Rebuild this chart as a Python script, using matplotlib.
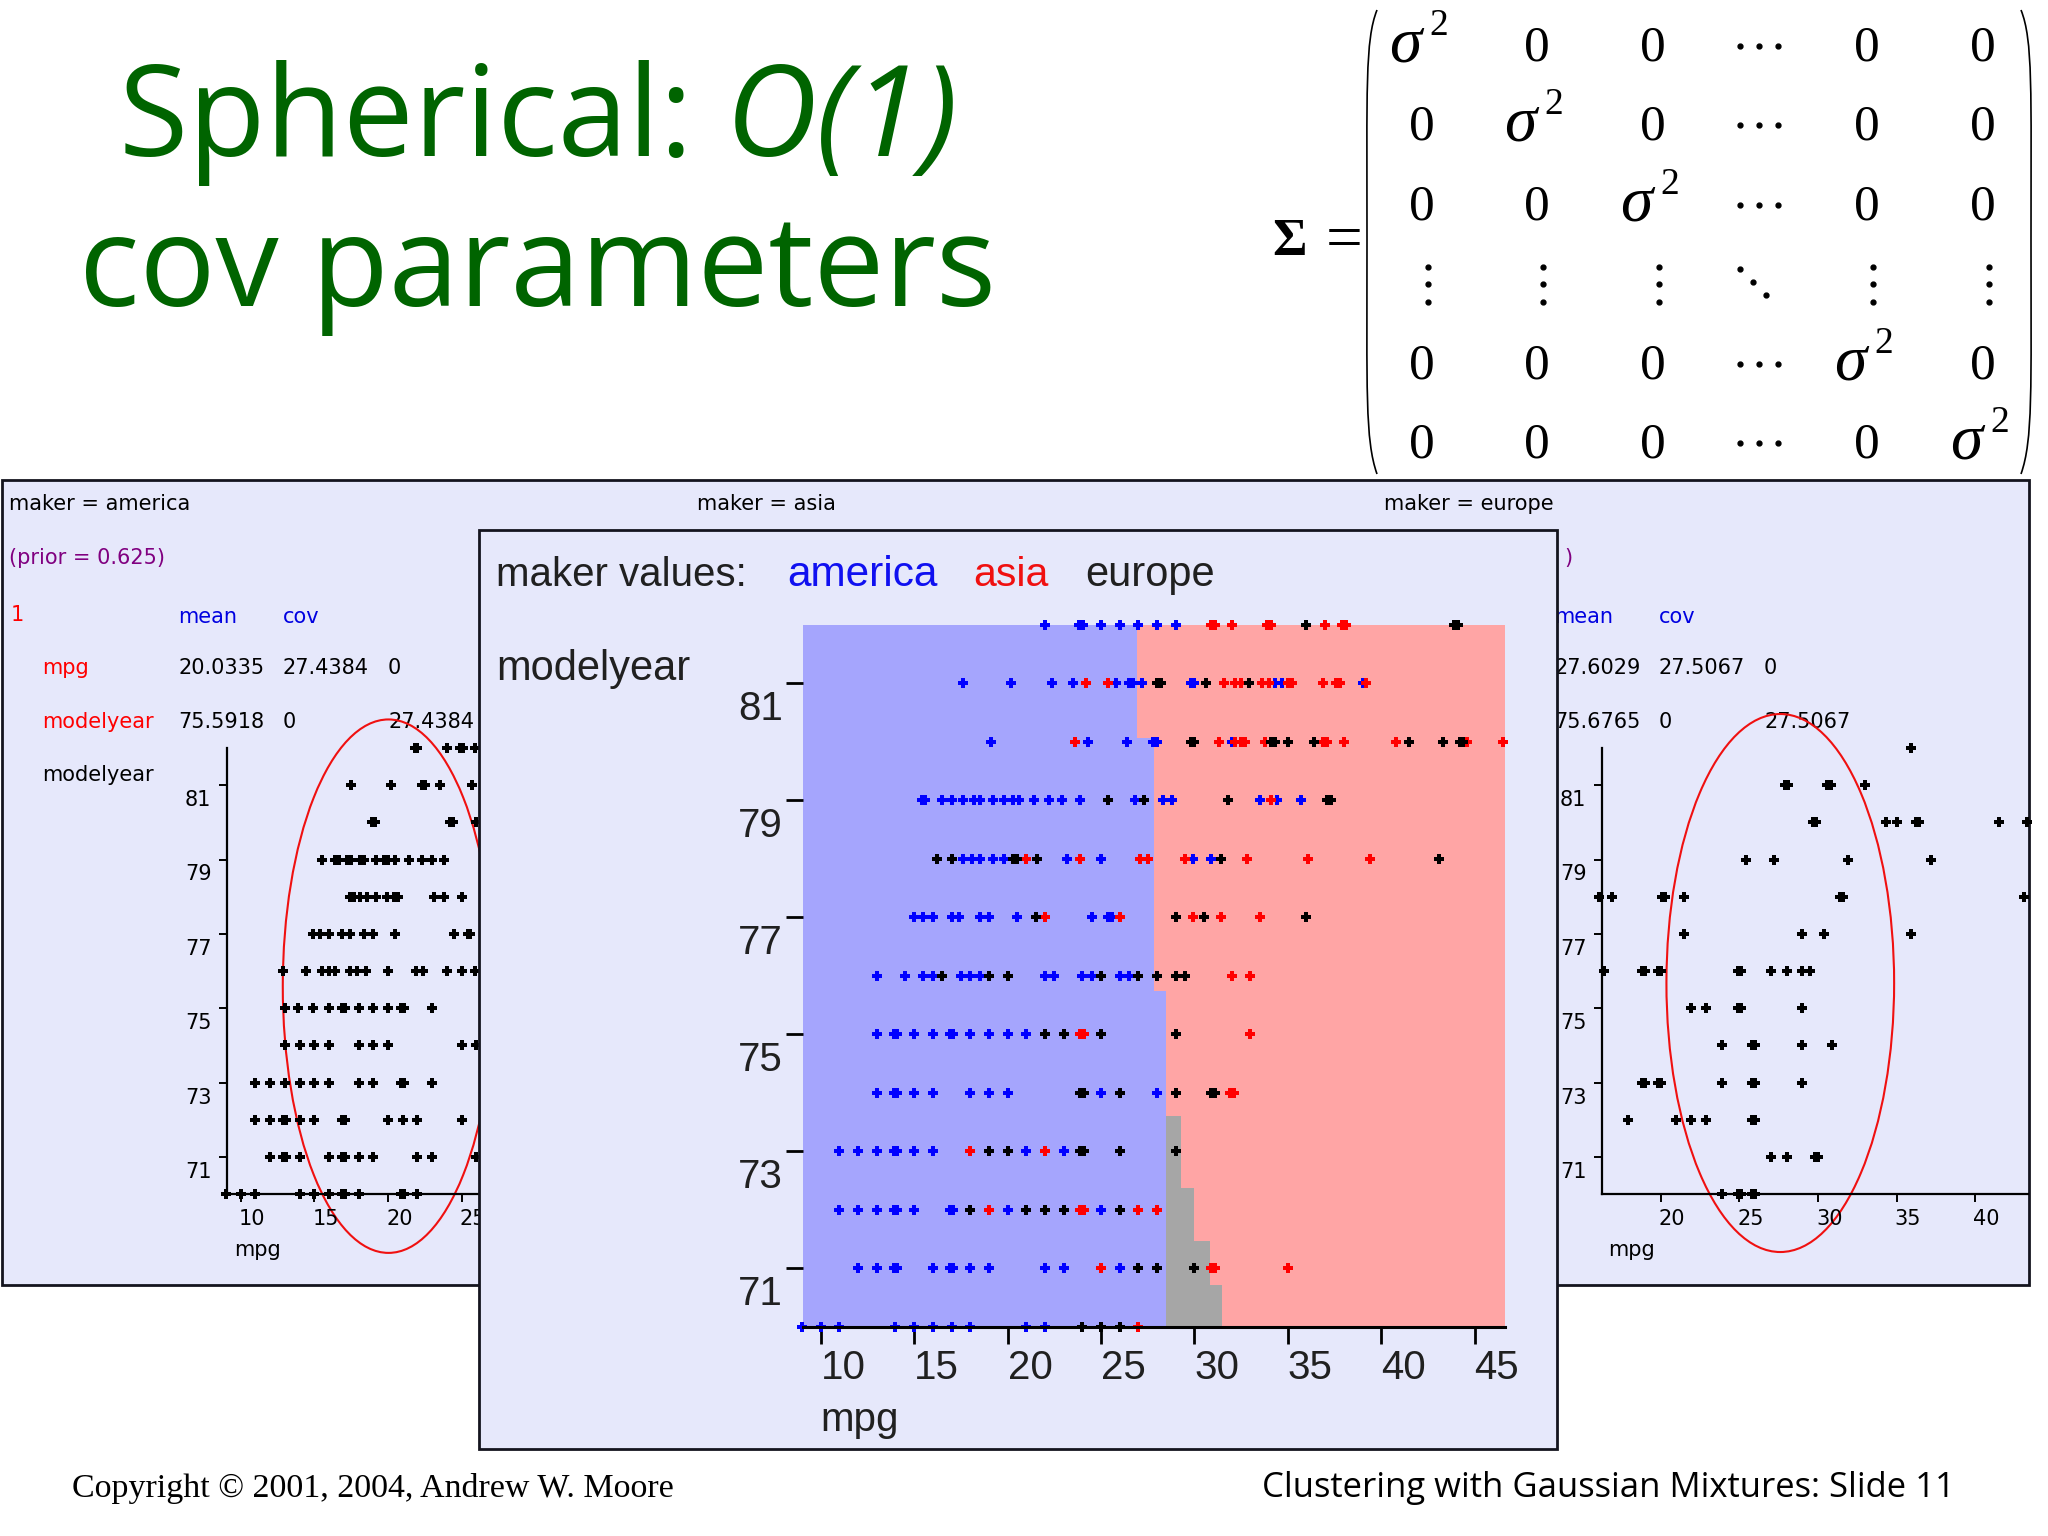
import numpy as np
import matplotlib
matplotlib.use('Agg')
import matplotlib.pyplot as plt
from matplotlib.patches import Rectangle, Ellipse, PathPatch
from matplotlib.path import Path
from matplotlib.transforms import ScaledTranslation

W, H = 2048, 1536

GREEN = '#006400'
PANEL = '#E6E8FB'
EDGE = '#14141E'

years = [82, 81, 80, 79, 78, 77, 76, 75, 74, 73, 72, 71, 70]

# centre plot: mpg values per model year, close pairs are the overplotted dots
center_blue = [
    [22, 23.85, 24.05, 25, 26, 27, 28, 29],
    [17.6, 20.2, 22.4, 23.5, 25.8, 26.5, 26.7, 27.2, 29.8, 30, 34.3, 34.7, 39],
    [19.1, 24.3, 26.4, 27.8, 28, 32],
    [15.4, 15.6, 16.5, 17, 17.6, 18.2, 18.5, 19.2, 19.8, 20.3, 20.6, 21.4, 22.2, 22.9, 23.9,
     26.8, 28.3, 28.8, 33.5, 34.4, 35.7],
    [17.6, 18.1, 18.5, 19.2, 19.8, 23.2, 25, 29.9, 30.9],
    [15, 15.5, 16, 17, 17.4, 18.5, 19, 20.5, 24.5, 25.4, 25.6],
    [13, 14.5, 15.5, 16, 17.5, 18, 18.5, 22, 22.5, 24, 24.5, 26, 26.5],
    [13, 13.9, 14.1, 15, 16, 16.9, 17.1, 18, 19, 20, 21],
    [13, 13.9, 14.1, 15, 16, 18, 19, 20, 25, 28],
    [11, 12, 13, 13.9, 14.1, 15, 16, 21, 23],
    [11, 12, 13, 13.9, 14.1, 15, 16.9, 17.1, 20, 25],
    [12, 13, 13.9, 14.1, 16, 16.9, 17.1, 18, 19, 22, 23, 26],
    [9, 10, 11, 14, 15, 16, 17, 18, 21, 22],
]
center_red = [
    [30.9, 31.1, 32, 33.9, 34.1, 37, 37.9, 38.1],
    [24.2, 25.4, 31.6, 32.2, 32.5, 33.6, 34, 35, 35.2, 36.9, 37.6, 37.8, 39.2],
    [23.6, 31.3, 32.2, 32.5, 32.7, 33.8, 36.9, 37.1, 38, 40.8, 44.6, 46.5],
    [34.1],
    [21, 23.9, 27.1, 27.5, 29.5, 32.8, 36.1, 39.4],
    [22, 26, 29.9, 31.4, 33.5],
    [32, 33],
    [23.9, 24.1, 33],
    [31.9, 32.1],
    [18, 22],
    [19, 23.9, 24.1, 27, 28],
    [25, 30.9, 31.1, 35],
    [27],
]
center_black = [
    [36, 43.9, 44.1],
    [28, 28.2, 30.6, 32.9],
    [29.8, 30, 34.1, 34.3, 35, 36.4, 41.5, 43.3, 44.2, 44.4],
    [25.4, 27.3, 31.8, 37.1, 37.3],
    [16.2, 17, 20.3, 20.5, 21.6, 31.4, 43.1],
    [21.5, 29, 30.5, 36],
    [16.5, 19, 20, 25, 27, 28, 29, 29.5],
    [22, 23, 25, 29],
    [23.9, 24.1, 26, 29, 30.9, 31.1],
    [19, 20, 23.9, 24.1, 26, 29],
    [18, 21, 22, 23, 26],
    [27, 28, 30],
    [24, 25, 26],
]

# decision regions of the centre plot
band_low = [70, 70.72, 71.46, 72.37, 73.6, 75.74, 80.06]
band_high = [70.72, 71.46, 72.37, 73.6, 75.74, 80.06, 82]
blue_end = [28.48, 28.48, 28.48, 28.48, 28.48, 27.83, 26.93]
red_start = [31.49, 30.83, 29.98, 29.3, 28.48, 27.83, 26.93]

# class-conditional scatter plots behind the centre window
america_mpg = [
    [21.8, 22, 24, 24.9, 25.1, 25.9],
    [17.5, 20.2, 22.3, 22.5, 23.5, 25.7],
    [18.9, 19.1, 24.2, 24.4, 26],
    [15.5, 16.4, 16.7, 17.2, 17.5, 18.1, 18.4, 19.2, 19.7, 20, 20.5, 21.4, 22.3, 23, 23.8],
    [17.4, 17.7, 18.1, 18.6, 19.2, 19.9, 20.4, 20.7, 23.1, 23.8, 25],
    [14.9, 15.4, 16, 16.9, 17.4, 18.4, 19, 20.5, 24.5, 25.4, 25.6],
    [12.9, 14.4, 15.5, 16, 16.4, 17.4, 17.9, 18.5, 20, 21.9, 22.4, 24, 25, 25.9],
    [13, 13.9, 14.9, 16, 16.9, 17.1, 18, 19, 20, 20.9, 21.1, 23],
    [13, 14, 15, 16, 18, 19, 20, 25, 26],
    [11, 12, 13, 14, 15, 16, 18, 19, 20.9, 21.1, 23],
    [11, 12, 12.9, 13.1, 14, 15, 16.9, 17.1, 20, 21, 22, 25],
    [12, 12.9, 13.1, 14, 16, 16.9, 17.1, 18, 19, 22, 23, 26],
    [9, 10, 11, 14, 15, 16, 16.9, 17.1, 18, 20.9, 21.1, 22],
]
europe_mpg = [
    [35.9],
    [27.9, 28.1, 30.6, 30.8, 33],
    [29.7, 29.9, 34.3, 35, 36.2, 36.4, 41.5, 43.3],
    [25.4, 27.2, 31.9, 37.2],
    [16.1, 16.9, 20.1, 20.3, 21.5, 31.4, 31.6, 43.1],
    [21.5, 29, 30.4, 35.9],
    [16.4, 18.8, 19, 19.8, 20, 24.9, 25.1, 27, 28, 29, 29.5],
    [21.9, 22.9, 24.9, 25.1, 29],
    [23.9, 25.8, 26, 29, 30.9],
    [18.8, 19, 19.8, 20, 23.9, 25.8, 26, 29],
    [17.9, 21, 21.9, 22.9, 25.8, 26],
    [27, 28, 29.8, 30],
    [23.9, 24.9, 25.1, 25.8, 26],
]

america_mean = [20.0335, 75.5918]
america_cov = 27.4384
europe_mean = [27.6029, 75.6765]
europe_cov = 27.5067

mpg_ticks = [10, 15, 20, 25, 30, 35, 40, 45]
side_mpg_left = [10, 15, 20, 25, 30, 35, 40]
side_mpg_right = [20, 25, 30, 35, 40]
year_ticks = [71, 73, 75, 77, 79, 81]

matrix_rows = 6
matrix_col_x = [1422, 1537, 1653, 1759, 1867, 1983]
matrix_row_y = [44, 123, 203, 284, 362, 441]


def px_axes(left, top, right, bottom, z):
    a = fig.add_axes([left / W, 1 - bottom / H, (right - left) / W, (bottom - top) / H])
    a.set_zorder(z)
    a.patch.set_alpha(0)
    return a


def shift_labels(labels, dx, dy):
    offset = ScaledTranslation(dx / 100, dy / 100, fig.dpi_scale_trans)
    for lab in labels:
        lab.set_transform(lab.get_transform() + offset)


def plot_rows(a, rows, color, size):
    for year, vals in zip(years, rows):
        a.plot(vals, [year] * len(vals), ls='', marker='P', color=color, ms=size, mew=0, clip_on=False)


def side_plot(left, right, xlim, rows, ticks, mean, cov, k):
    a = px_axes(left, 748, right, 1194, 1)
    a.set_xlim(*xlim)
    a.set_ylim(70, 82)
    plot_rows(a, rows, 'black', 7)
    a.spines[['top', 'right']].set_visible(False)
    a.spines[['left', 'bottom']].set_linewidth(1.6)
    a.set_xticks(ticks)
    a.set_yticks(year_ticks)
    a.tick_params(length=6, width=1.4, labelsize=15, pad=5)
    for lab in a.get_xticklabels():
        lab.set_horizontalalignment('left')
    for lab in a.get_yticklabels():
        lab.set_verticalalignment('top')
    shift_labels(a.get_xticklabels(), -2, 0)
    shift_labels(a.get_yticklabels(), 0, -5)
    a.add_patch(Ellipse(mean, 2 * k * np.sqrt(cov), 2 * k * np.sqrt(cov), fill=False,
                        ec='#F01010', lw=1.5, clip_on=False))
    return a


fig = plt.figure(figsize=(W / 100, H / 100), dpi=100, facecolor='white')

# back layer in pixel coordinates
bg = px_axes(0, 0, W, H, 0)
bg.set_xlim(0, W)
bg.set_ylim(H, 0)
bg.axis('off')

bg.add_patch(Rectangle((2, 480), 2027, 805, fc=PANEL, ec=EDGE, lw=2))


def small(x, y, s, color='black', size=15):
    bg.text(x, y, s, color=color, fontsize=size, family='DejaVu Sans', va='center', ha='left')


small(9, 504, 'maker = america')
small(697, 504, 'maker = asia')
small(1384, 504, 'maker = europe')
small(9, 558, '(prior = 0.625)', '#800080')
bg.text(1572, 558, ')', color='#800080', fontsize=15, va='center', ha='right')
small(11, 615, '1', 'red')
small(178, 617, 'mean', '#0000E0')
small(283, 617, 'cov', '#0000E0')
small(42, 668, 'mpg', 'red')
small(178, 668, '20.0335')
small(283, 668, '27.4384')
small(388, 668, '0')
small(42, 722, 'modelyear', 'red')
small(178, 722, '75.5918')
small(283, 722, '0')
small(388, 722, '27.4384')
small(42, 775, 'modelyear')
small(1554, 617, 'mean', '#0000E0')
small(1659, 617, 'cov', '#0000E0')
small(1554, 668, '27.6029')
small(1659, 668, '27.5067')
small(1764, 668, '0')
small(1554, 722, '75.6765')
small(1659, 722, '0')
small(1764, 722, '27.5067')
small(234, 1250, 'mpg')
small(1608, 1250, 'mpg')

side_plot(226.7, 700, (9.05, 41.18), america_mpg, side_mpg_left, america_mean, america_cov, 1.37)
side_plot(1601.7, 2028.3, (16.25, 43.37), europe_mpg, side_mpg_right, europe_mean, europe_cov, 1.38)

# title
bg.text(119, 156, 'Spherical: ', color=GREEN, fontsize=91, family='Open Sans', va='baseline')
bg.text(726, 156, 'O(1)', color=GREEN, fontsize=91, family='Open Sans', style='italic', va='baseline')
bg.text(79, 306, 'cov parameters', color=GREEN, fontsize=91, family='Open Sans', va='baseline')

# covariance matrix
serif = 'Liberation Serif'
for r in range(matrix_rows):
    for c in range(matrix_rows):
        x, y = matrix_col_x[c], matrix_row_y[r]
        if r == 3:
            if c == 3:
                bg.plot([x - 19, x - 6, x + 7], [y - 15, y - 2, y + 11], ls='', marker='o', ms=3.5, color='black')
            else:
                bg.plot([x + 6] * 3, [y - 17, y, y + 18], ls='', marker='o', ms=3.5, color='black')
        elif c == 3:
            bg.plot([x - 19, x, x + 19], [y + 2] * 3, ls='', marker='o', ms=3.5, color='black')
        elif r == c:
            bg.text(x - 17, y + 2, '\u03c3', family=serif, style='italic', fontsize=47, ha='center', va='center')
            bg.text(x + 17, y - 18, '2', family=serif, fontsize=27, ha='center', va='center')
        else:
            bg.text(x, y + 4, '0', family=serif, fontsize=37, ha='center', va='center')

bg.text(1290, 242, '\u03a3', family=serif, weight='bold', fontsize=38, ha='center', va='center')
bg.text(1344, 243, '=', family=serif, fontsize=47, ha='center', va='center')

left_paren = Path([(1377, 10), (1365, 40), (1367, 90), (1367, 240), (1367, 390), (1365, 440), (1377, 474)],
                  [Path.MOVETO] + [Path.CURVE4] * 6)
right_paren = Path([(2021, 10), (2033, 40), (2031, 90), (2031, 240), (2031, 390), (2033, 440), (2021, 474)],
                   [Path.MOVETO] + [Path.CURVE4] * 6)
bg.add_patch(PathPatch(left_paren, fill=False, ec='black', lw=1.2))
bg.add_patch(PathPatch(right_paren, fill=False, ec='black', lw=1.2))

# footer
bg.text(72, 1488, 'Copyright \u00a9 2001, 2004, Andrew W. Moore', family=serif, fontsize=24.5, va='center')
bg.text(1262, 1488, 'Clustering with Gaussian Mixtures: Slide 11', family='Open Sans', fontsize=24.9, va='center')

# centre window
mid = px_axes(0, 0, W, H, 2)
mid.set_xlim(0, W)
mid.set_ylim(H, 0)
mid.axis('off')
mid.add_patch(Rectangle((479, 530), 1078, 919, fc=PANEL, ec=EDGE, lw=2))

sans = 'Liberation Sans'
mid.text(496, 575, 'maker values:', family=sans, fontsize=29, color='#202020', va='center')
mid.text(787, 575, 'america', family=sans, fontsize=30.5, color='#1010F0', va='center')
mid.text(973, 575, 'asia', family=sans, fontsize=29.5, color='#F01010', va='center')
mid.text(1085, 575, 'europe', family=sans, fontsize=30, color='#202020', va='center')
mid.text(496, 669, 'modelyear', family=sans, fontsize=30, color='#202020', va='center')
mid.text(820, 1420, 'mpg', family=sans, fontsize=29, color='#202020', va='center')

ax = px_axes(803, 624.7, 1504.5, 1326.7, 3)
ax.set_xlim(9.05, 46.6)
ax.set_ylim(70, 82)

for low, high, be, rs in zip(band_low, band_high, blue_end, red_start):
    ax.barh(low, be - 9.05, height=high - low, left=9.05, align='edge', color='#A5A5FD', lw=0)
    ax.barh(low, rs - be, height=high - low, left=be, align='edge', color='#A6A6A6', lw=0)
    ax.barh(low, 46.6 - rs, height=high - low, left=rs, align='edge', color='#FFA5A5', lw=0)

plot_rows(ax, center_blue, '#0000FF', 6.5)
plot_rows(ax, center_red, '#FF0000', 6.5)
plot_rows(ax, center_black, 'black', 6.5)

ax.spines[['top', 'right', 'left']].set_visible(False)
ax.spines['bottom'].set_linewidth(2.2)
ax.set_xticks(mpg_ticks)
ax.set_yticks(year_ticks)
ax.tick_params(length=12, width=2, labelsize=29, pad=4, labelcolor='#202020')
for lab in ax.get_xticklabels() + ax.get_yticklabels():
    lab.set_family(sans)
for lab in ax.get_xticklabels():
    lab.set_horizontalalignment('left')
for lab in ax.get_yticklabels():
    lab.set_verticalalignment('top')
shift_labels(ax.get_yticklabels(), 2, -7)

fig.savefig('out.png', dpi=100, facecolor='white')
